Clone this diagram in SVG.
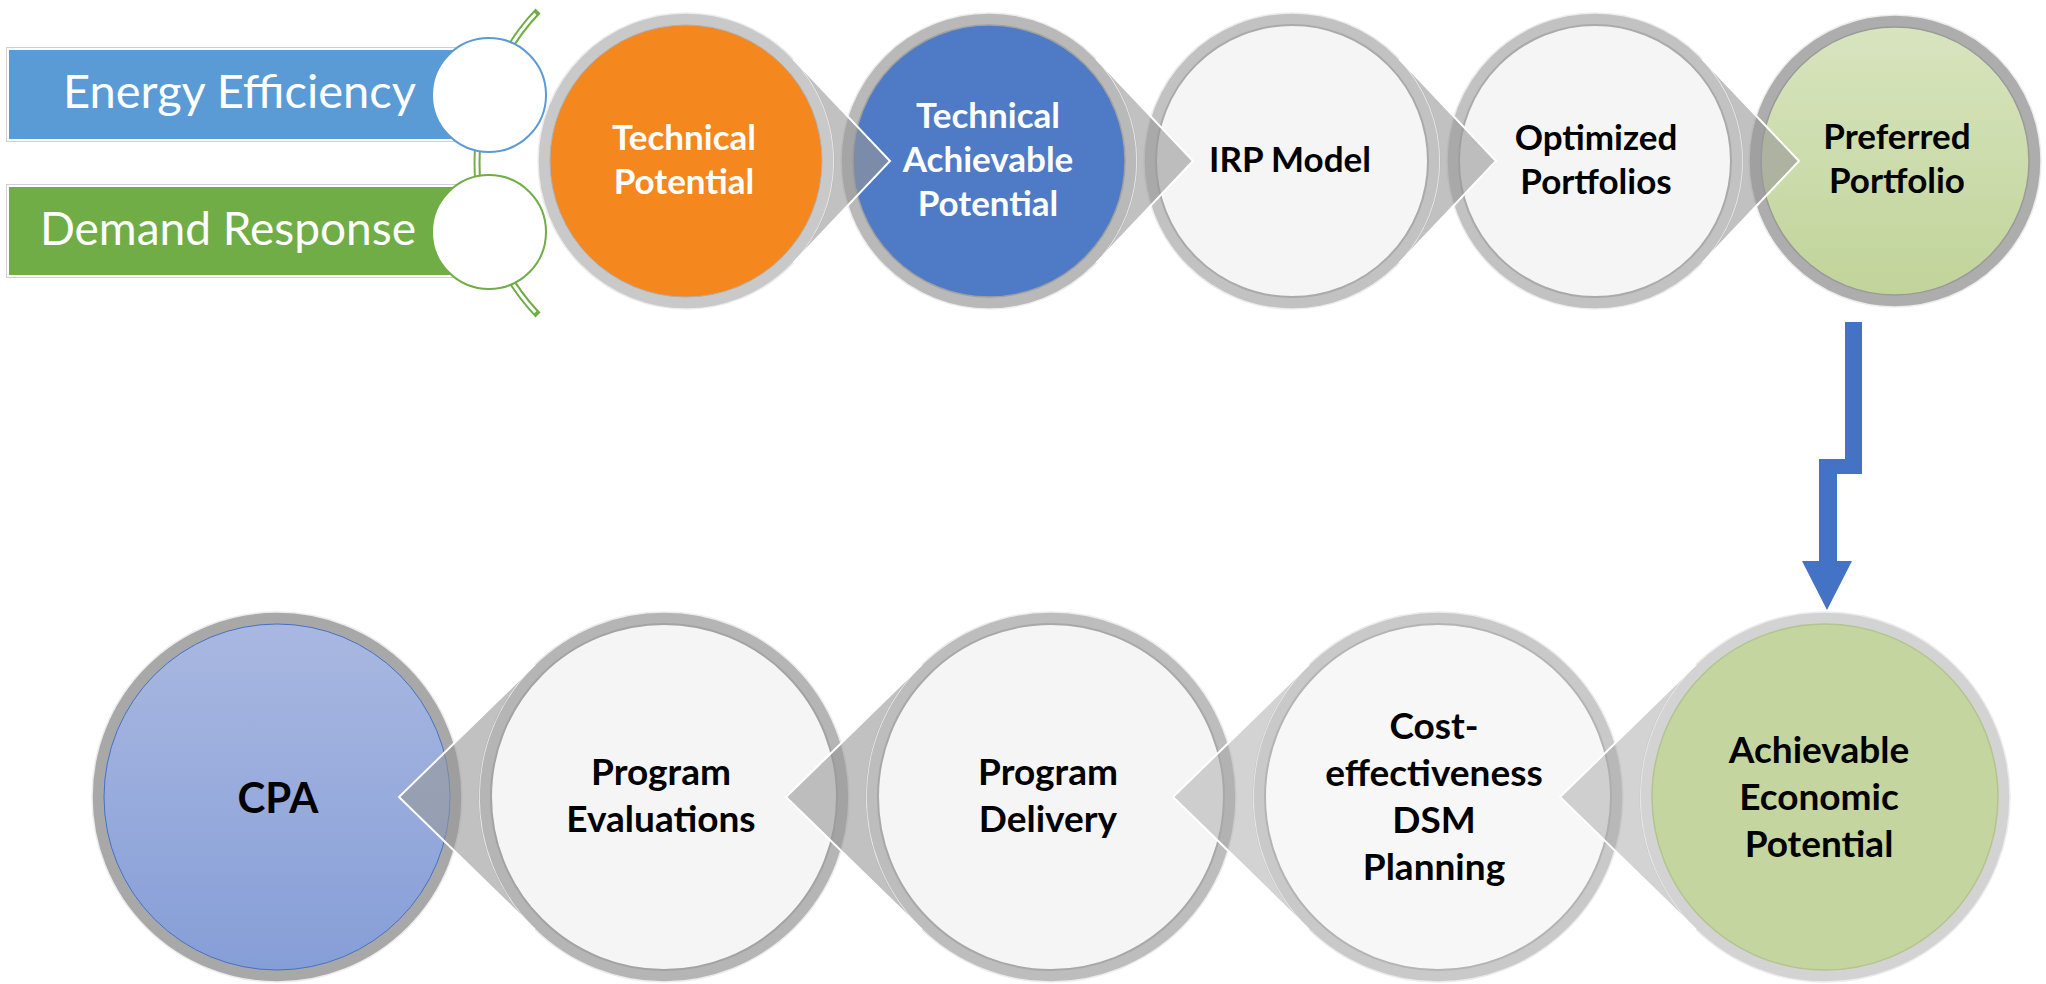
<svg xmlns="http://www.w3.org/2000/svg" width="2046" height="984" viewBox="0 0 2046 984">
<style>
.lbl{font-family:Lato,"Liberation Sans",sans-serif;font-weight:bold;text-anchor:middle}
.top{font-size:35px}
.bot{font-size:37px}
.dark{fill:#000}
.light{fill:#fff}
.side{font-family:Lato,"Liberation Sans",sans-serif;fill:#fff;text-anchor:end}
.ringedge{stroke:#ececec;stroke-width:1.5}
.ptr{fill:#989898;fill-opacity:0.6}
.ptrl{fill:#a8a8a8;fill-opacity:0.5}
.ptredge{fill:none;stroke:#fff;stroke-width:2;stroke-linejoin:miter}
</style>
<defs>
<linearGradient id="gPref" x1="0" y1="0" x2="0" y2="1">
<stop offset="0" stop-color="#D8E4BE"/>
<stop offset="1" stop-color="#C1D49A"/>
</linearGradient>
<linearGradient id="gCpa" x1="0" y1="0" x2="0" y2="1">
<stop offset="0" stop-color="#A9B8E1"/>
<stop offset="1" stop-color="#869ED7"/>
</linearGradient>
</defs>
<rect width="2046" height="984" fill="#fff"/>

<g id="inputs">
<path d="M538 11 A220 220 0 0 0 538 315" fill="none" stroke="#70AD47" stroke-width="7"/>
<path d="M535.3 13.8 A220 220 0 0 0 535.3 312.2" fill="none" stroke="#fff" stroke-width="3"/>
<g id="energy-efficiency">
<rect x="6.5" y="47.5" width="470" height="94" fill="#fff" stroke="#d0d0d0" stroke-width="1"/>
<rect x="9" y="50" width="470" height="89" fill="#5B9BD5"/>
<circle cx="489" cy="95" r="57" fill="#fff" stroke="#5B9BD5" stroke-width="2"/>
<text class="side" style="font-size:47px" x="416" y="108">Energy Efficiency</text>
</g>
<g id="demand-response">
<rect x="6.5" y="184.5" width="470" height="93" fill="#fff" stroke="#d0d0d0" stroke-width="1"/>
<rect x="9" y="187" width="470" height="88" fill="#70AD47"/>
<circle cx="489" cy="232" r="57" fill="#fff" stroke="#70AD47" stroke-width="2"/>
<text class="side" style="font-size:46px" x="416" y="245">Demand Response</text>
</g>
</g>

<g id="technical-potential">
<circle cx="686" cy="161" r="148" fill="#c9c9c9" class="ringedge"/>
<circle cx="686" cy="161" r="136" fill="#F5871F" stroke="#b0b0b0" stroke-width="1"/>
</g>
<g id="technical-achievable-potential">
<circle cx="989" cy="161" r="148" fill="#b9b9b9" class="ringedge"/>
<circle cx="989" cy="161" r="136" fill="#4F7BC6" stroke="#a0a0a0" stroke-width="1.5"/>
</g>
<g id="irp-model">
<circle cx="1292" cy="161" r="148" fill="#c2c2c2" class="ringedge"/>
<circle cx="1292" cy="161" r="136" fill="#F5F5F5" stroke="#aaaaaa" stroke-width="2"/>
</g>
<g id="optimized-portfolios">
<circle cx="1595" cy="161" r="148" fill="#c2c2c2" class="ringedge"/>
<circle cx="1595" cy="161" r="136" fill="#F5F5F5" stroke="#aaaaaa" stroke-width="2"/>
</g>
<g id="preferred-portfolio">
<circle cx="1895" cy="161" r="146" fill="#adadad" class="ringedge"/>
<circle cx="1895" cy="161" r="134" fill="url(#gPref)" stroke="#9a9a9a" stroke-width="1.5"/>
</g>

<g id="cpa">
<circle cx="277" cy="797" r="185" fill="#a8a8a8" class="ringedge"/>
<circle cx="277" cy="797" r="173" fill="url(#gCpa)" stroke="#4472C4" stroke-width="1"/>
</g>
<g id="program-evaluations">
<circle cx="664" cy="797" r="185" fill="#b5b5b5" class="ringedge"/>
<circle cx="664" cy="797" r="173" fill="#F5F5F5" stroke="#a3a3a3" stroke-width="2"/>
</g>
<g id="program-delivery">
<circle cx="1051" cy="797" r="185" fill="#bdbdbd" class="ringedge"/>
<circle cx="1051" cy="797" r="173" fill="#F5F5F5" stroke="#a8a8a8" stroke-width="2"/>
</g>
<g id="cost-effectiveness-dsm-planning">
<circle cx="1438" cy="797" r="185" fill="#c9c9c9" class="ringedge"/>
<circle cx="1438" cy="797" r="173" fill="#F7F7F7" stroke="#b4b4b4" stroke-width="2"/>
</g>
<g id="achievable-economic-potential">
<circle cx="1825" cy="797" r="185" fill="#d3d3d3" class="ringedge"/>
<circle cx="1825" cy="797" r="173" fill="#C4D59F" stroke="#b3c48f" stroke-width="1.5"/>
</g>

<g id="connectors">
<path class="ptr" d="M890 161 L793.4 59.1 A148 148 0 0 1 793.4 262.9 Z"/>
<polyline class="ptredge" points="793.4,59.1 890,161 793.4,262.9"/>
<path class="ptr" d="M1193 161 L1096.4 59.1 A148 148 0 0 1 1096.4 262.9 Z"/>
<polyline class="ptredge" points="1096.4,59.1 1193,161 1096.4,262.9"/>
<path class="ptr" d="M1496 161 L1399.4 59.1 A148 148 0 0 1 1399.4 262.9 Z"/>
<polyline class="ptredge" points="1399.4,59.1 1496,161 1399.4,262.9"/>
<path class="ptr" d="M1799 161 L1702.4 59.1 A148 148 0 0 1 1702.4 262.9 Z"/>
<polyline class="ptredge" points="1702.4,59.1 1799,161 1702.4,262.9"/>

<path class="ptr" d="M399 797 L534.8 664.6 A185 185 0 0 0 534.8 929.4 Z"/>
<polyline class="ptredge" points="534.8,664.6 399,797 534.8,929.4"/>
<path class="ptr" d="M786 797 L921.8 664.6 A185 185 0 0 0 921.8 929.4 Z"/>
<polyline class="ptredge" points="921.8,664.6 786,797 921.8,929.4"/>
<path class="ptrl" d="M1173 797 L1308.8 664.6 A185 185 0 0 0 1308.8 929.4 Z"/>
<polyline class="ptredge" points="1308.8,664.6 1173,797 1308.8,929.4"/>
<path class="ptrl" d="M1560 797 L1695.8 664.6 A185 185 0 0 0 1695.8 929.4 Z"/>
<polyline class="ptredge" points="1695.8,664.6 1560,797 1695.8,929.4"/>

<polygon fill="#4472C4" points="1845,322 1862,322 1862,474 1837,474 1837,561 1852,561 1827,610 1802,561 1819,561 1819,459 1845,459"/>
</g>

<g id="labels">
<text class="lbl top light"><tspan x="684" y="150">Technical</tspan><tspan x="684" y="194">Potential</tspan></text>
<text class="lbl top light"><tspan x="988" y="128">Technical</tspan><tspan x="988" y="172">Achievable</tspan><tspan x="988" y="216">Potential</tspan></text>
<text class="lbl top dark" x="1290" y="172">IRP Model</text>
<text class="lbl top dark"><tspan x="1596" y="150">Optimized</tspan><tspan x="1596" y="194">Portfolios</tspan></text>
<text class="lbl top dark"><tspan x="1897" y="149">Preferred</tspan><tspan x="1897" y="193">Portfolio</tspan></text>

<text class="lbl dark" style="font-size:42px" x="278" y="813">CPA</text>
<text class="lbl bot dark"><tspan x="661" y="785">Program</tspan><tspan x="661" y="832">Evaluations</tspan></text>
<text class="lbl bot dark"><tspan x="1048" y="785">Program</tspan><tspan x="1048" y="832">Delivery</tspan></text>
<text class="lbl bot dark"><tspan x="1434" y="739">Cost-</tspan><tspan x="1434" y="786">effectiveness</tspan><tspan x="1434" y="833">DSM</tspan><tspan x="1434" y="880">Planning</tspan></text>
<text class="lbl bot dark"><tspan x="1819" y="763">Achievable</tspan><tspan x="1819" y="810">Economic</tspan><tspan x="1819" y="857">Potential</tspan></text>
</g>
</svg>
